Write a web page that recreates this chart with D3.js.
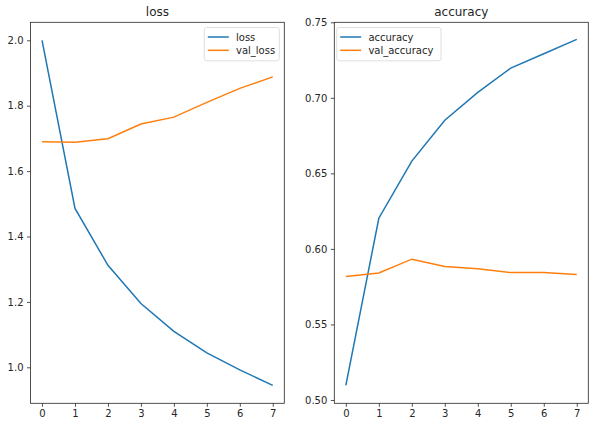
<!DOCTYPE html>
<html><head><meta charset="utf-8">
<script src="https://cdn.jsdelivr.net/npm/d3@7"></script>
<style>body{margin:0;background:#fff}svg{display:block}text{font-family:"DejaVu Sans",sans-serif;fill:#262626}</style>
</head><body><svg id="c" width="595" height="427"></svg>
<script>
const epochs = [0,1,2,3,4,5,6,7];
const loss = [2.000,1.486,1.312,1.195,1.110,1.044,0.992,0.945];
const valLoss = [1.690,1.688,1.699,1.744,1.765,1.810,1.853,1.888];
const accuracy = [0.5097,0.6203,0.6581,0.6852,0.7036,0.7197,0.7292,0.7387];
const valAccuracy = [0.5817,0.5841,0.5932,0.5883,0.5868,0.5843,0.5843,0.5830];
const lossTicks = [1.0,1.2,1.4,1.6,1.8,2.0];
const accTicks = [0.50,0.55,0.60,0.65,0.70,0.75];
const titles = ["loss","accuracy"];
const blue = "#1f77b4", orange = "#ff7f0e";

const svg = d3.select("#c");
const plotTop = 22.3, plotBottom = 403.3;

function panel(opts){
  const g = svg.append("g");
  const x = d3.scaleLinear().domain([-0.35,7.35]).range([opts.left, opts.right]);
  const y = d3.scaleLinear().domain(opts.ydom).range([plotBottom, plotTop]);
  const xa = g.append("g").attr("transform",`translate(0,${plotBottom})`)
    .call(d3.axisBottom(x).tickValues(epochs).tickFormat(d3.format("d")).tickSizeOuter(0).tickSize(3.5).tickPadding(3.5));
  const ya = g.append("g").attr("transform",`translate(${opts.left},0)`)
    .call(d3.axisLeft(y).tickValues(opts.ticks).tickFormat(d3.format(opts.fmt)).tickSizeOuter(0).tickSize(3.5).tickPadding(3.5));
  [xa,ya].forEach(a=>{a.select(".domain").remove();a.selectAll("line").attr("stroke","#262626").attr("stroke-width",0.8);a.selectAll("text").attr("font-size",10).attr("fill","#262626").style("font-family","DejaVu Sans");});
  const line = d3.line().x((d,i)=>x(epochs[i])).y(d=>y(d));
  g.append("path").datum(opts.s1).attr("d",line).attr("fill","none").attr("stroke",blue).attr("stroke-width",1.5);
  g.append("path").datum(opts.s2).attr("d",line).attr("fill","none").attr("stroke",orange).attr("stroke-width",1.5);
  g.append("rect").attr("x",opts.left).attr("y",plotTop).attr("width",opts.right-opts.left).attr("height",plotBottom-plotTop)
    .attr("fill","none").attr("stroke","#262626").attr("stroke-width",0.8);
  g.append("text").attr("x",(opts.left+opts.right)/2).attr("y",plotTop-6).attr("text-anchor","middle").attr("font-size",12).text(opts.title);
  const L = opts.legend;
  g.append("rect").attr("x",L.x).attr("y",L.y).attr("width",L.w).attr("height",33.3).attr("rx",2.5)
    .attr("fill","#fff").attr("fill-opacity",0.8).attr("stroke","#d5d5d5").attr("stroke-width",0.8);
  opts.names.forEach((n,i)=>{
    const yy = L.y + 9.5 + i*13.3;
    g.append("line").attr("x1",L.x+3.5).attr("x2",L.x+24.5).attr("y1",yy).attr("y2",yy).attr("stroke",i?orange:blue).attr("stroke-width",1.5);
    g.append("text").attr("x",L.x+31.7).attr("y",yy).attr("dy","0.35em").attr("font-size",10).text(n);
  });
}

panel({left:30.5,right:284.3,ydom:[0.890,2.055],ticks:lossTicks,fmt:".1f",s1:loss,s2:valLoss,title:titles[0],
  names:["loss","val_loss"],legend:{x:204.3,y:27.5,w:75}});
panel({left:334.3,right:588.3,ydom:[0.4978,0.75],ticks:accTicks,fmt:".2f",s1:accuracy,s2:valAccuracy,title:titles[1],
  names:["accuracy","val_accuracy"],legend:{x:336.7,y:27.5,w:104.3}});
</script></body></html>
